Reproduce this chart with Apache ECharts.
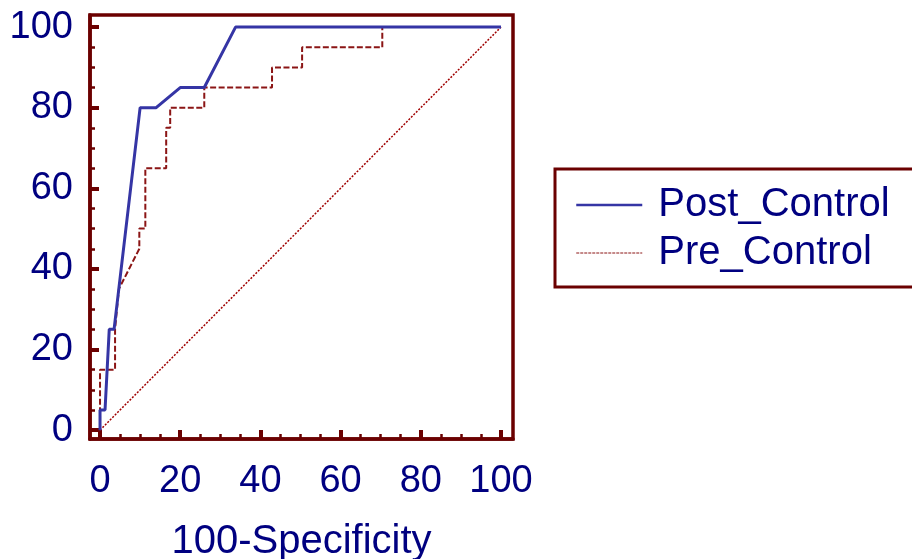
<!DOCTYPE html>
<html>
<head>
<meta charset="utf-8">
<script src="https://cdn.jsdelivr.net/npm/echarts@6/dist/echarts.min.js"></script>
<style>
html,body{margin:0;padding:0;background:#fff;}
#chart{width:912px;height:559px;}
</style>
</head>
<body>
<div id="chart"></div>
<script>
// ---- data ----
var postX = [0, 0, 1.25, 2.3, 3.5, 10, 14, 20, 26, 33.8, 100];
var postY = [0, 5, 5, 25, 25, 80, 80, 85, 85, 100, 100];
var preX = [0, 0, 3.75, 3.75, 4.7, 9.8, 9.8, 11.3, 11.3, 16.5, 16.5, 17.5, 17.5, 26, 26, 42.9, 42.9, 50.4, 50.4, 70.4, 70.4, 100];
var preY = [0, 15, 15, 25, 35, 45, 50, 50, 65, 65, 75, 75, 80, 80, 85, 85, 90, 90, 95, 95, 100, 100];
var diagX = [0, 100];
var diagY = [0, 100];
var majorTicks = [0, 20, 40, 60, 80, 100];
var minorTicks = [5, 10, 15, 25, 30, 35, 45, 50, 55, 65, 70, 75, 85, 90, 95];
var seriesNames = ['Post_Control', 'Pre_Control'];
var xName = '100-Specificity';

function pairs(xs, ys) { return xs.map(function (x, i) { return [x, ys[i]]; }); }

var AX = '#6b0000';
var TXT = '#000080';
var BLUE = '#3535a5';
var RED = '#8b1515';
var FONT = '"Liberation Sans", Arial, Helvetica, sans-serif';
var XMIN = -2.5, XMAX = 103, YMIN = -2.2, YMAX = 103;

function baseAxis(extra) {
  var a = {
    type: 'value', splitLine: { show: false },
    axisLine: { show: false, onZero: false },
    axisTick: { show: false },
    axisLabel: { show: false }
  };
  for (var k in extra) a[k] = extra[k];
  return a;
}

var chart = echarts.init(document.getElementById('chart'));
chart.setOption({
  animation: false,
  backgroundColor: '#fff',
  grid: { left: 90, right: 399, top: 15, bottom: 120, show: true, borderColor: AX, borderWidth: 3.5, containLabel: false, outerBoundsMode: 'none' },
  xAxis: [
    baseAxis({
      min: XMIN, max: XMAX, position: 'bottom',
      axisLine: { show: true, onZero: false, lineStyle: { color: AX, width: 3.5 } },
      axisTick: { show: true, inside: true, length: 9, customValues: majorTicks, lineStyle: { color: AX, width: 4 } },
      axisLabel: { show: true, customValues: majorTicks, margin: 24, color: TXT, fontSize: 38, fontFamily: FONT },
      name: xName, nameLocation: 'middle', nameGap: 83,
      nameTextStyle: { color: TXT, fontSize: 40, fontFamily: FONT }
    }),
    baseAxis({
      min: XMIN, max: XMAX, position: 'bottom',
      axisTick: { show: true, inside: true, length: 5, customValues: minorTicks, lineStyle: { color: AX, width: 2.5 } }
    })
  ],
  yAxis: [
    baseAxis({
      min: YMIN, max: YMAX, position: 'left',
      axisLine: { show: true, onZero: false, lineStyle: { color: AX, width: 3.5 } },
      axisTick: { show: true, inside: true, length: 9, customValues: majorTicks, lineStyle: { color: AX, width: 4 } },
      axisLabel: { show: true, customValues: majorTicks, margin: 17, color: TXT, fontSize: 38, fontFamily: FONT }
    }),
    baseAxis({
      min: YMIN, max: YMAX, position: 'left',
      axisTick: { show: true, inside: true, length: 5, customValues: minorTicks, lineStyle: { color: AX, width: 2.5 } }
    })
  ],
  legend: {
    orient: 'vertical', left: 555, top: 169,
    borderColor: AX, borderWidth: 3, borderRadius: 0,
    padding: [16, 60, 14, 20],
    itemWidth: 66, itemHeight: 14, itemGap: 8,
    textStyle: { color: TXT, fontSize: 40, fontFamily: FONT },
    formatter: function (n) { return ' ' + n; },
    data: [
      { name: seriesNames[0], lineStyle: { width: 2.5, type: 'solid', color: BLUE }, itemStyle: { opacity: 0 } },
      { name: seriesNames[1], lineStyle: { width: 1, type: [3, 1], color: RED }, itemStyle: { opacity: 0 } }
    ]
  },
  series: [
    {
      name: 'diag', type: 'line', data: pairs(diagX, diagY), symbol: 'none', silent: true, z: 1,
      lineStyle: { color: '#a00000', width: 1.5, type: [2, 1.5] }
    },
    {
      name: seriesNames[1], type: 'line', data: pairs(preX, preY), symbol: 'none', z: 2,
      lineStyle: { color: RED, width: 2, type: [6, 2.5] }, itemStyle: { color: RED }
    },
    {
      name: seriesNames[0], type: 'line', data: pairs(postX, postY), symbol: 'none', z: 3,
      lineStyle: { color: BLUE, width: 3 }, itemStyle: { color: BLUE }
    }
  ]
});
</script>
</body>
</html>
